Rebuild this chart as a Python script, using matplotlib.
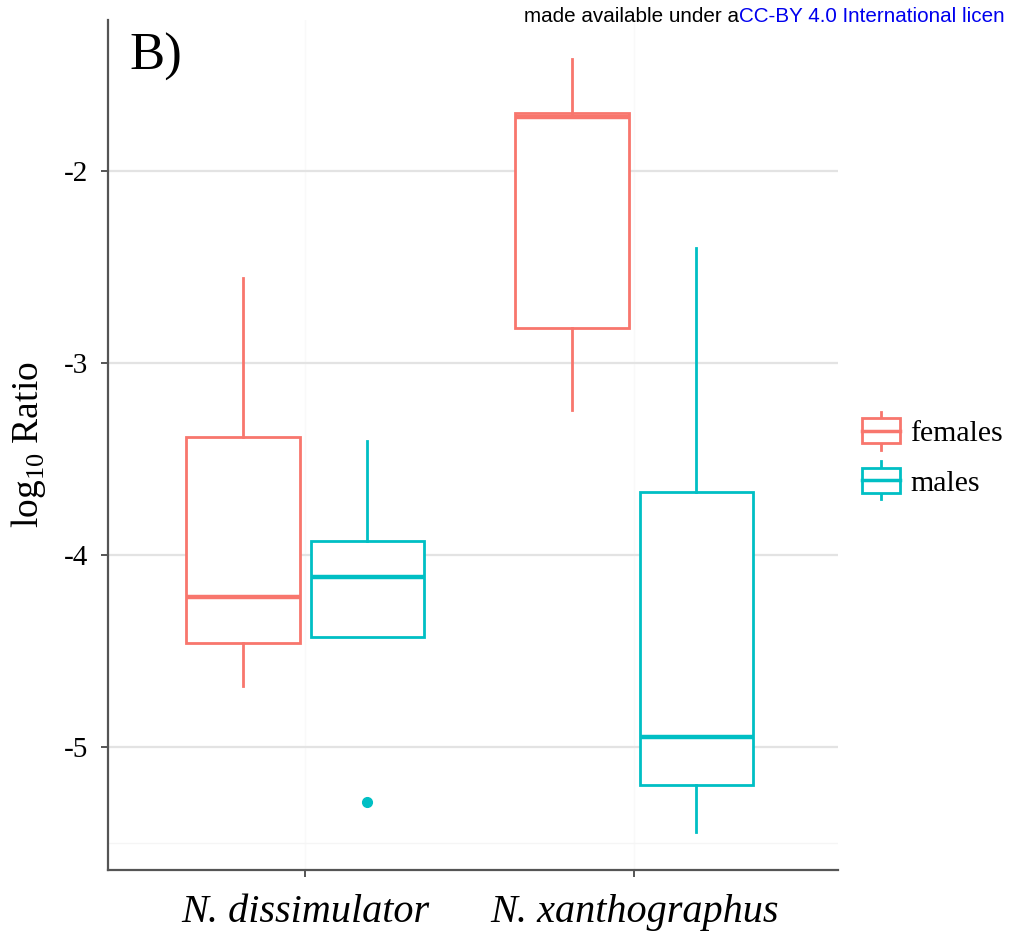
import matplotlib
matplotlib.use("Agg")
import matplotlib.pyplot as plt
from matplotlib.legend_handler import HandlerBase
from matplotlib.patches import Rectangle
from matplotlib.lines import Line2D

plt.rcParams['font.family'] = ['Liberation Serif', 'DejaVu Serif']
plt.rcParams['mathtext.fontset'] = 'custom'
plt.rcParams['mathtext.rm'] = 'Liberation Serif'

species = ["N. dissimulator", "N. xanthographus"]
groups = ["females", "males"]
colors = {"females": "#F8766D", "males": "#00BFC4"}

# stats per group per species: whislo, q1, med, q3, whishi
females_whislo = [-4.68, -3.245]
females_q1 = [-4.458, -2.818]
females_med = [-4.219, -1.72]
females_q3 = [-3.385, -1.70]
females_whishi = [-2.557, -1.417]
females_fliers = [[], []]

males_whislo = [-4.427, -5.443]
males_q1 = [-4.427, -5.198]
males_med = [-4.115, -4.948]
males_q3 = [-3.927, -3.672]
males_whishi = [-3.406, -2.401]
males_fliers = [[-5.286], []]

data = {
    "females": (females_whislo, females_q1, females_med, females_q3, females_whishi, females_fliers),
    "males": (males_whislo, males_q1, males_med, males_q3, males_whishi, males_fliers),
}

fig = plt.figure(figsize=(10.14, 9.32), dpi=100)
ax = fig.add_axes([0.1065, 0.0665, 0.72, 0.912])

offset = {"females": -0.189, "males": 0.189}
width = 0.345
for g in groups:
    wl, q1, med, q3, wh, fl = data[g]
    stats = []
    for i in range(len(species)):
        stats.append(dict(whislo=wl[i], q1=q1[i], med=med[i], q3=q3[i], whishi=wh[i], fliers=fl[i]))
    pos = [i + 1 + offset[g] for i in range(len(species))]
    c = colors[g]
    ax.bxp(stats, positions=pos, widths=width, showcaps=False, patch_artist=True,
           boxprops=dict(facecolor='white', edgecolor=c, linewidth=2),
           medianprops=dict(color=c, linewidth=3.2),
           whiskerprops=dict(color=c, linewidth=2),
           flierprops=dict(marker='o', markerfacecolor=c, markeredgecolor=c, markersize=7),
           manage_ticks=False, zorder=3)

ax.set_xlim(0.4, 2.62)
ax.set_ylim(-5.641, -1.214)
ax.set_xticks([1, 2])
ax.set_xticklabels(species, fontsize=29, style='italic')
ax.set_yticks([-2, -3, -4, -5])
ax.set_yticklabels(["-2", "-3", "-4", "-5"], fontsize=21)
ax.set_yticks([-5.5], minor=True)
ax.tick_params(axis='y', which='minor', length=0)
ax.grid(True, which='major', axis='y', color='#e3e3e3', linewidth=1.6, zorder=0)
ax.grid(True, which='minor', axis='y', color='#f5f5f5', linewidth=1.0, zorder=0)
ax.grid(True, which='major', axis='x', color='#f9f9f9', linewidth=1.0, zorder=0)
ax.set_axisbelow(True)
for s in ['top', 'right']:
    ax.spines[s].set_visible(False)
for s in ['left', 'bottom']:
    ax.spines[s].set_color('#555555')
    ax.spines[s].set_linewidth(1.6)
ax.tick_params(axis='both', which='major', color='#555555', width=1.4, length=5)
ax.tick_params(axis='x', pad=12)
ax.tick_params(axis='y', pad=9)
ax.set_ylabel(r"log$_{10}$ Ratio", fontsize=27, labelpad=12)

ax.text(0.03, 0.985, "B)", transform=ax.transAxes, fontsize=38, va='top', ha='left')

class BoxHandler(HandlerBase):
    def create_artists(self, legend, orig_handle, xdescent, ydescent, width, height, fontsize, trans):
        c = orig_handle.get_color()
        bw = width * 0.95
        x0 = (width - bw) / 2 - xdescent
        bh = height * 1.2
        y0 = (height - bh) / 2 - ydescent
        rect = Rectangle((x0, y0), bw, bh, facecolor='white', edgecolor=c, linewidth=2, transform=trans)
        med = Line2D([x0, x0 + bw], [y0 + bh / 2] * 2, color=c, linewidth=2.5, transform=trans)
        w1 = Line2D([width / 2 - xdescent] * 2, [y0 + bh, y0 + bh + height * 0.3], color=c, linewidth=2, transform=trans)
        w2 = Line2D([width / 2 - xdescent] * 2, [y0, y0 - height * 0.3], color=c, linewidth=2, transform=trans)
        return [w1, w2, rect, med]

handles = [Line2D([], [], color=colors[g]) for g in groups]
leg = fig.legend(handles, groups, handler_map={Line2D: BoxHandler()},
                 loc='center left', bbox_to_anchor=(0.849, 0.508), frameon=False,
                 fontsize=21.5, handlelength=1.35, handletextpad=0.3, labelspacing=0.75,
                 borderaxespad=0, borderpad=0)

t1 = fig.text(0.517, 0.993, "made available under a", fontsize=14.9, family='Liberation Sans',
              color='black', va='top', ha='left')
ax.annotate("CC-BY 4.0 International licen", xy=(1, 0), xycoords=t1,
            fontsize=14.9, family='Liberation Sans', color='#0000ee', va='bottom', ha='left',
            annotation_clip=False)

fig.savefig("out.png", dpi=100)
